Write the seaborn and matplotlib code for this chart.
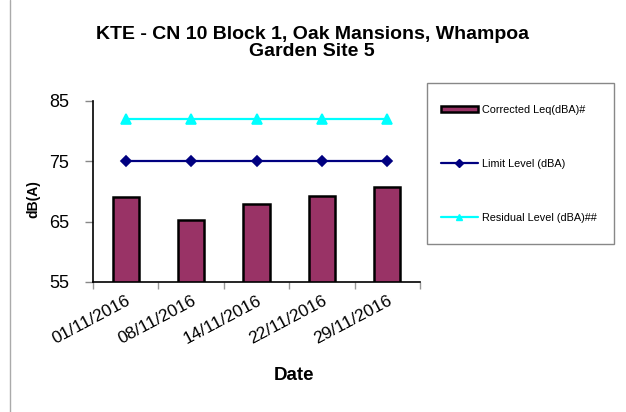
import matplotlib
matplotlib.use("Agg")
import matplotlib.pyplot as plt
import seaborn as sns
import pandas as pd
from matplotlib.lines import Line2D
from matplotlib.patches import Patch, Rectangle

dates = ["01/11/2016", "08/11/2016", "14/11/2016", "22/11/2016", "29/11/2016"]
corrected_leq = [69.1, 65.3, 67.9, 69.3, 70.7]
limit_level = [75, 75, 75, 75, 75]
residual_level = [82, 82, 82, 82, 82]
y_ticks = [55, 65, 75, 85]

sns.set_theme(style="white")
plt.rcParams["font.family"] = ["Liberation Sans", "DejaVu Sans"]
plt.rcParams["text.color"] = "black"
plt.rcParams["axes.labelcolor"] = "black"

df = pd.DataFrame({"Date": dates, "Corrected": corrected_leq,
                   "Limit": limit_level, "Residual": residual_level})

W, H = 626, 412
fig = plt.figure(figsize=(W / 100, H / 100), dpi=100)
ax = fig.add_axes([93 / W, 1 - 282 / H, (420 - 93) / W, (282 - 101) / H])

bar_color = "#993366"
limit_color = "#000080"
res_color = "#00FFFF"

sns.barplot(data=df, x="Date", y="Corrected", order=dates, color=bar_color,
            saturation=1, width=0.4, edgecolor="black", linewidth=1.8, ax=ax)
sns.pointplot(data=df, x="Date", y="Limit", order=dates, color=limit_color,
              markers="D", linestyles="-", markersize=5.5, linewidth=1.6,
              errorbar=None, ax=ax)
sns.pointplot(data=df, x="Date", y="Residual", order=dates, color=res_color,
              markers="^", linestyles="-", markersize=7, linewidth=1.6,
              errorbar=None, ax=ax)

ax.set_xlim(-0.5, 4.5)
ax.set_ylim(55, 85)
ax.set_yticks(y_ticks)
ax.set_yticklabels([str(v) for v in y_ticks], fontsize=13)
ax.set_xticks(range(len(dates)))
ax.set_xticklabels(dates, rotation=28, ha="right", rotation_mode="anchor", fontsize=12.5)
ax.set_xticks([i - 0.5 for i in range(len(dates) + 1)], minor=True)
ax.tick_params(axis="x", which="major", length=0, pad=8, labelcolor="black")
ax.tick_params(axis="x", which="minor", length=5, color="#999999", width=1, direction="out", bottom=True)
ax.tick_params(axis="y", length=6, color="#888888", width=1, direction="out", left=True,
               pad=11, labelcolor="black")
for s in ["top", "right"]:
    ax.spines[s].set_visible(False)
for s in ["left", "bottom"]:
    ax.spines[s].set_color("black")
    ax.spines[s].set_linewidth(1.2)
ax.set_xlabel("")
ax.set_ylabel("")
ax.grid(False)

fig.text(312 / W, 1 - 43 / H, "KTE - CN 10 Block 1, Oak Mansions, Whampoa\nGarden Site 5",
         ha="center", va="center", fontsize=14, fontweight="bold", linespacing=1.0)
fig.text(294 / W, 1 - 376 / H, "Date", ha="center", va="center", fontsize=13.5, fontweight="bold")
fig.text(33 / W, 1 - 199 / H, "dB(A)", ha="center", va="center", rotation=90,
         fontsize=10, fontweight="bold")

handles = [
    Patch(facecolor=bar_color, edgecolor="black", linewidth=1.8),
    Line2D([0], [0], color=limit_color, marker="D", markersize=4.5, linewidth=1.6),
    Line2D([0], [0], color=res_color, marker="^", markersize=5, linewidth=1.6),
]
labels = ["Corrected Leq(dBA)#", "Limit Level (dBA)", "Residual Level (dBA)##"]
leg = fig.legend(handles, labels, loc="upper left", bbox_to_anchor=(441 / W, 1 - 105 / H),
                 fontsize=7.8, frameon=False, labelspacing=4.05,
                 handlelength=3.4, handletextpad=0.4, borderpad=0, borderaxespad=0,
                 handleheight=0.5)

fig.add_artist(Rectangle((427 / W, 1 - 244 / H), (614 - 427) / W, (244 - 83) / H,
                         transform=fig.transFigure, fill=False, edgecolor="#888888",
                         linewidth=1))
fig.add_artist(Line2D([10 / W, 10 / W], [0, 1], color="#aaaaaa", linewidth=1,
                      transform=fig.transFigure))

fig.savefig("out.png", dpi=100)
